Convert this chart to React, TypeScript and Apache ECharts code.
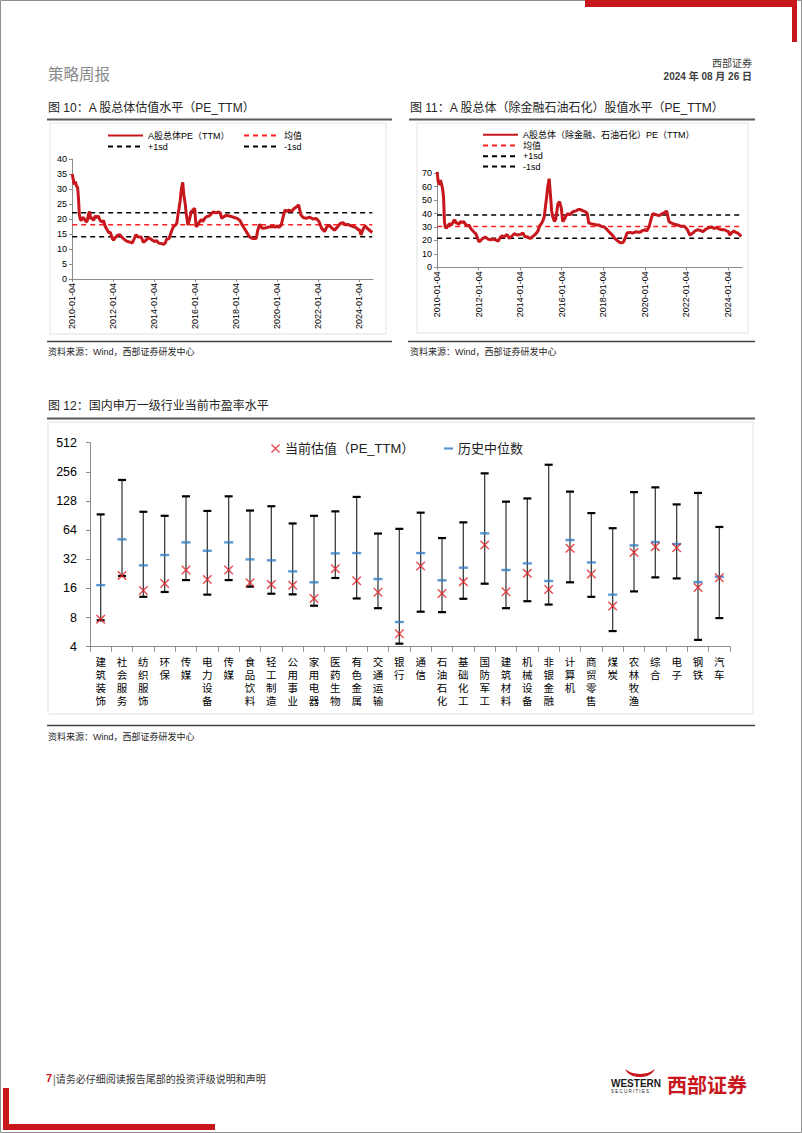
import React, { useEffect, useRef } from "react";
import * as echarts from "echarts";

const FONT = "'Liberation Sans', 'Noto Sans CJK SC', sans-serif";
const CJK = "'Noto Sans CJK SC', 'Liberation Sans', sans-serif";
const RED = "#c8161d";

// ---------- Figure 10 / 11 data ----------
const dates = [
  "2010-01-04", "2010-01-20", "2010-02-10", "2010-03-01", "2010-03-20", "2010-04-10", "2010-04-25", "2010-05-10",
  "2010-05-25", "2010-06-15", "2010-07-10", "2010-08-10", "2010-09-10", "2010-10-01", "2010-10-20", "2010-11-10",
  "2010-11-30", "2010-12-20", "2011-01-20", "2011-02-20", "2011-03-20", "2011-04-15", "2011-05-15", "2011-06-20",
  "2011-07-15", "2011-08-15", "2011-09-15", "2011-10-15", "2011-11-15", "2011-12-20", "2012-01-10", "2012-02-20",
  "2012-03-15", "2012-05-01", "2012-06-15", "2012-08-01", "2012-09-15", "2012-11-15", "2012-12-10", "2013-01-15",
  "2013-02-15", "2013-03-20", "2013-05-15", "2013-06-25", "2013-08-15", "2013-09-20", "2013-11-15", "2014-01-10",
  "2014-02-20", "2014-03-20", "2014-05-15", "2014-06-20", "2014-07-20", "2014-08-10", "2014-09-25", "2014-11-10",
  "2014-12-10", "2015-01-10", "2015-02-10", "2015-03-01", "2015-03-20", "2015-04-10", "2015-04-30", "2015-05-25",
  "2015-06-15", "2015-07-08", "2015-07-25", "2015-08-26", "2015-09-20", "2015-10-25", "2015-11-25", "2015-12-25",
  "2016-01-20", "2016-02-20", "2016-03-20", "2016-04-20", "2016-05-20", "2016-06-20", "2016-07-25", "2016-09-10",
  "2016-10-20", "2016-11-25", "2017-01-10", "2017-02-20", "2017-03-25", "2017-04-20", "2017-06-01", "2017-07-15",
  "2017-09-01", "2017-10-15", "2017-12-01", "2018-01-20", "2018-03-10", "2018-04-20", "2018-06-10", "2018-07-20",
  "2018-09-01", "2018-10-20", "2018-12-01", "2018-12-25", "2019-01-20", "2019-02-25", "2019-04-10", "2019-06-01",
  "2019-08-01", "2019-10-01", "2019-12-01", "2020-01-10", "2020-02-05", "2020-03-15", "2020-04-15", "2020-05-20",
  "2020-06-20", "2020-08-01", "2020-09-15", "2020-11-01", "2020-12-10", "2021-01-20", "2021-03-01", "2021-04-10",
  "2021-06-01", "2021-08-01", "2021-10-01", "2021-12-01", "2022-01-20", "2022-03-01", "2022-04-26", "2022-06-01",
  "2022-07-15", "2022-09-01", "2022-10-20", "2022-12-10", "2023-02-01", "2023-03-20", "2023-05-01", "2023-06-15",
  "2023-08-01", "2023-09-15", "2023-11-01", "2023-12-15", "2024-01-10", "2024-02-05", "2024-03-10", "2024-04-15",
  "2024-05-20", "2024-06-20", "2024-07-20", "2024-08-23",
];

const peAll = [
  35.0, 33.5, 31.5, 32.5, 31.0, 30.5, 27.0, 21.5,
  20.0, 19.5, 20.5, 20.0, 19.0, 19.5, 21.5, 22.5,
  20.0, 20.5, 19.5, 21.0, 20.5, 21.0, 19.5, 19.0,
  19.5, 17.5, 16.5, 15.5, 15.5, 13.5, 13.0, 14.0,
  14.5, 14.8, 13.8, 13.0, 12.5, 12.2, 12.0, 13.5,
  14.8, 14.0, 14.0, 12.2, 13.0, 13.8, 13.2, 12.5,
  12.8, 12.0, 11.8, 11.6, 12.0, 13.2, 13.5, 16.0,
  17.4, 17.8, 18.5, 21.3, 23.5, 26.0, 29.7, 32.2,
  28.0, 25.2, 22.0, 18.0, 19.5, 22.4, 23.0, 23.6,
  17.4, 18.0, 19.1, 19.8, 19.2, 20.2, 20.8, 21.0,
  21.8, 22.4, 22.0, 22.4, 22.0, 20.2, 20.8, 21.3,
  21.0, 20.8, 20.5, 20.2, 19.5, 18.0, 16.5, 15.2,
  14.0, 13.5, 13.6, 13.4, 16.0, 18.2, 16.9, 17.0,
  17.3, 17.5, 17.3, 17.7, 17.2, 18.0, 20.5, 23.0,
  22.5, 23.0, 22.5, 23.5, 24.0, 24.7, 21.3, 20.5,
  20.2, 20.6, 20.0, 20.2, 19.1, 17.0, 15.8, 17.2,
  18.0, 17.0, 16.3, 17.3, 18.5, 18.8, 18.0, 18.2,
  17.8, 17.5, 17.2, 16.5, 16.3, 14.7, 16.5, 17.7,
  17.0, 16.5, 16.0, 15.5,
];

const peExFin = [
  71.5, 64.0, 61.5, 65.0, 62.0, 58.0, 52.0, 34.0,
  30.0, 29.0, 31.0, 32.5, 31.5, 33.0, 34.5, 35.5,
  33.0, 33.0, 32.0, 34.0, 33.5, 34.0, 32.0, 31.0,
  31.5, 29.0, 27.5, 26.0, 25.0, 21.0, 19.0, 20.5,
  21.5, 22.5, 21.0, 20.5, 21.0, 20.0, 19.5, 22.0,
  23.5, 22.5, 24.5, 21.5, 23.5, 25.0, 24.0, 24.5,
  25.5, 23.0, 22.5, 21.5, 22.0, 23.0, 24.5, 27.0,
  31.0, 32.5, 35.0, 38.0, 45.0, 52.0, 60.0, 66.0,
  55.0, 42.0, 38.0, 34.0, 36.0, 47.0, 49.0, 44.0,
  34.0, 36.0, 38.5, 40.0, 39.0, 40.5, 41.5, 42.0,
  43.0, 43.0, 42.0, 41.5, 40.0, 33.0, 32.5, 32.0,
  31.5, 31.5, 30.5, 30.0, 28.0, 26.0, 24.0, 21.5,
  20.0, 18.5, 18.3, 19.0, 21.5, 25.5, 26.0, 25.5,
  26.5, 26.0, 27.5, 28.0, 27.0, 30.0, 35.0, 40.0,
  39.5, 39.0, 38.5, 40.0, 40.5, 42.0, 34.0, 33.0,
  32.0, 31.5, 30.5, 30.5, 28.0, 24.0, 25.5, 27.0,
  28.0, 27.5, 26.5, 28.5, 29.5, 30.0, 29.0, 29.5,
  28.5, 28.0, 28.0, 27.0, 26.5, 24.0, 26.0, 27.0,
  26.0, 25.5, 24.5, 23.0,
];

const peAllMean = 18.1;
const peAllUp = 22.1;
const peAllDown = 14.1;
const peExMean = 30.3;
const peExUp = 39.0;
const peExDown = 21.7;
const yearTicks = [2010, 2012, 2014, 2016, 2018, 2020, 2022, 2024];

// ---------- Figure 12 data ----------
const industries = [
  "建筑装饰", "社会服务", "纺织服饰", "环保", "传媒", "电力设备", "传媒", "食品饮料", "轻工制造", "公用事业",
  "家用电器", "医药生物", "有色金属", "交通运输", "银行", "通信", "石油石化", "基础化工", "国防军工", "建筑材料",
  "机械设备", "非银金融", "计算机", "商贸零售", "煤炭", "农林牧渔", "综合", "电子", "钢铁", "汽车",
];
const histMax = [93, 211, 99, 90, 143, 101, 143, 102, 113, 75, 90, 100, 141, 59, 66, 97, 53, 77, 247, 126, 136, 303, 160, 96, 67, 158, 177, 118, 155, 69];
const histMin = [7.5, 21.5, 13.1, 14.7, 19.5, 13.8, 19.5, 16.7, 14.1, 13.9, 10.6, 20.5, 12.6, 10.0, 4.3, 9.2, 9.1, 12.5, 17.9, 10.0, 11.8, 10.9, 18.5, 13.1, 5.8, 14.9, 20.8, 20.3, 4.7, 7.9];
const histMedian = [17.3, 51.4, 27.7, 35.4, 47.8, 39.2, 47.8, 31.9, 31.2, 24.0, 18.5, 36.8, 37.1, 20.0, 7.2, 37.1, 19.4, 26.2, 59.3, 24.8, 29.0, 19.1, 50.6, 29.7, 13.8, 44.5, 48.2, 46.0, 18.6, 21.1];
const currentPE = [7.7, 21.7, 15.2, 18.0, 24.8, 19.8, 24.8, 18.3, 17.6, 17.3, 12.6, 25.6, 19.2, 14.6, 5.45, 27.3, 14.2, 18.8, 44.9, 14.8, 22.9, 15.6, 41.5, 22.5, 10.5, 37.7, 43.2, 42.1, 16.4, 20.6];

const XPATH = "path://M0,1.1L1.1,0L5,3.9L8.9,0L10,1.1L6.1,5L10,8.9L8.9,10L5,6.1L1.1,10L0,8.9L3.9,5Z";
const DASHPATH = "path://M0,0L10,0L10,2.4L0,2.4Z";

echarts.graphic.registerShape(
  "bullHorns",
  echarts.graphic.extendPath("M0 0 C4 9 14 13 25 13 C36 13 46 9 50 0 C44 5 35 8 25 8 C15 8 6 5 0 0 Z", {})
);

function toYear(d: string): number {
  const [y, m, dd] = d.split("-").map(Number);
  return y + (m - 1) / 12 + (dd - 1) / 365;
}

const lineData = (vals: number[]) => dates.map((d, i) => [toYear(d), vals[i]]);
const flat = (v: number) => [
  [toYear(dates[0]), v],
  [toYear(dates[dates.length - 1]), v],
];

function txt(x: number, y: number, text: string, o: any = {}) {
  return {
    type: "text",
    silent: true,
    style: {
      x,
      y,
      text,
      fontSize: o.size || 12,
      fontFamily: o.family || FONT,
      fontWeight: o.weight || "normal",
      fill: o.color || "#222",
      align: o.align || "left",
      verticalAlign: "middle",
    },
  };
}
function hline(x1: number, x2: number, y: number, color: string, w: number) {
  return { type: "line", silent: true, shape: { x1, y1: y, x2, y2: y }, style: { stroke: color, lineWidth: w } };
}
function frame(x: number, y: number, w: number, h: number) {
  return { type: "rect", silent: true, shape: { x, y, width: w, height: h }, style: { fill: "none", stroke: "#e2e2e2", lineWidth: 1 } };
}
function legendAt(name: string, left: number, top: number) {
  return {
    data: [name],
    left,
    top,
    orient: "horizontal",
    itemWidth: 35,
    itemHeight: 8,
    padding: 0,
    selectedMode: false,
    itemStyle: { opacity: 0 },
    textStyle: { fontSize: 9, color: "#000", fontFamily: FONT },
  };
}

function timeXAxis(gridIndex: number) {
  return {
    type: "value",
    gridIndex,
    min: 2010,
    max: 2024.68,
    interval: 2,
    axisLine: { show: true, onZero: false, lineStyle: { color: "#8c8c8c", width: 1 } },
    axisTick: { show: true, length: 3, customValues: yearTicks, lineStyle: { color: "#8c8c8c" } },
    axisLabel: {
      customValues: yearTicks,
      rotate: 90,
      fontSize: 9,
      color: "#000",
      fontFamily: FONT,
      margin: 4,
      formatter: (v: number) => (Math.abs(v - Math.round(v)) < 1e-6 && Math.round(v) % 2 === 0 ? `${Math.round(v)}-01-04` : ""),
    },
    splitLine: { show: false },
  };
}
function valYAxis(gridIndex: number, max: number, interval: number) {
  return {
    type: "value",
    gridIndex,
    min: 0,
    max,
    interval,
    axisLine: { show: true, lineStyle: { color: "#8c8c8c", width: 1 } },
    axisTick: { show: true, length: 3, lineStyle: { color: "#8c8c8c" } },
    axisLabel: { fontSize: 9, color: "#000", fontFamily: FONT, margin: 5 },
    splitLine: { show: false },
  };
}
function refLine(name: string, v: number, color: string, axis: number) {
  return {
    type: "line",
    name,
    xAxisIndex: axis,
    yAxisIndex: axis,
    data: flat(v),
    symbol: "none",
    showSymbol: false,
    lineStyle: { color, width: 1.5, type: [5, 4] },
    itemStyle: { color },
    z: 2,
    silent: true,
  };
}
function mainLine(name: string, vals: number[], axis: number) {
  return {
    type: "line",
    name,
    xAxisIndex: axis,
    yAxisIndex: axis,
    data: lineData(vals),
    symbol: "none",
    showSymbol: false,
    lineStyle: { color: RED, width: 3 },
    itemStyle: { color: RED },
    z: 3,
    silent: true,
  };
}

export default function App() {
  const ref = useRef<HTMLDivElement>(null);
  useEffect(() => {
    if (!ref.current) return;
    const chart = echarts.init(ref.current, undefined, { renderer: "svg" });
    const option: any = {
      animation: false,
      backgroundColor: "#ffffff",
      grid: [
        { left: 72, top: 159, width: 301, height: 120 },
        { left: 437, top: 173.3, width: 305, height: 94 },
        { left: 90, top: 442.7, width: 640, height: 204 },
      ],
      xAxis: [
        timeXAxis(0),
        timeXAxis(1),
        {
          type: "category",
          gridIndex: 2,
          data: industries,
          axisLine: { show: true, lineStyle: { color: "#8c8c8c" } },
          axisTick: { show: true, length: 5, lineStyle: { color: "#8c8c8c" } },
          axisLabel: {
            interval: 0,
            fontSize: 10.5,
            lineHeight: 13,
            color: "#000",
            fontFamily: CJK,
            margin: 8,
            formatter: (v: string) => v.split("").join("\n"),
          },
          splitLine: { show: false },
        },
      ],
      yAxis: [
        valYAxis(0, 40, 5),
        valYAxis(1, 70, 10),
        {
          type: "log",
          logBase: 2,
          gridIndex: 2,
          min: 4,
          max: 512,
          axisLine: { show: true, lineStyle: { color: "#8c8c8c" } },
          axisTick: { show: true, length: 4, lineStyle: { color: "#8c8c8c" } },
          axisLabel: { fontSize: 12.5, color: "#000", fontFamily: FONT, margin: 13, formatter: (v: number) => String(Math.round(v)) },
          splitLine: { show: false },
          minorTick: { show: false },
        },
      ],
      legend: [
        legendAt("A股总体PE（TTM）", 107, 131),
        legendAt("均值", 243, 131),
        legendAt("+1sd", 107, 142),
        legendAt("-1sd", 243, 142),
        legendAt("A股总体（除金融、石油石化）PE（TTM）", 482, 130.3),
        legendAt("均值", 482, 141),
        legendAt("+1sd", 482, 151.7),
        legendAt("-1sd", 482, 162),
        {
          data: [{ name: "当前估值（PE_TTM）", icon: XPATH }],
          left: 271,
          top: 442,
          itemWidth: 9,
          itemHeight: 9,
          padding: 0,
          selectedMode: false,
          textStyle: { fontSize: 13, color: "#222", fontFamily: FONT },
        },
        {
          data: [{ name: "历史中位数", icon: DASHPATH }],
          left: 444,
          top: 442,
          itemWidth: 9,
          itemHeight: 9,
          padding: 0,
          selectedMode: false,
          textStyle: { fontSize: 13, color: "#222", fontFamily: FONT },
        },
      ],
      series: [
        refLine("均值", peAllMean, "#ff2020", 0),
        refLine("+1sd", peAllUp, "#000000", 0),
        refLine("-1sd", peAllDown, "#000000", 0),
        mainLine("A股总体PE（TTM）", peAll, 0),
        refLine("均值", peExMean, "#ff2020", 1),
        refLine("+1sd", peExUp, "#000000", 1),
        refLine("-1sd", peExDown, "#000000", 1),
        mainLine("A股总体（除金融、石油石化）PE（TTM）", peExFin, 1),
        {
          type: "custom",
          name: "区间",
          xAxisIndex: 2,
          yAxisIndex: 2,
          silent: true,
          z: 2,
          encode: { x: 0, y: [1, 2] },
          data: industries.map((_, i) => [i, histMin[i], histMax[i]]),
          renderItem: (params: any, api: any) => {
            const i = api.value(0);
            const pLo = api.coord([i, api.value(1)]);
            const pHi = api.coord([i, api.value(2)]);
            const x = pLo[0];
            const w = 4;
            return {
              type: "group",
              children: [
                { type: "line", shape: { x1: x, y1: pHi[1], x2: x, y2: pLo[1] }, style: { stroke: "#3f3f3f", lineWidth: 1.3 } },
                { type: "line", shape: { x1: x - w, y1: pHi[1], x2: x + w, y2: pHi[1] }, style: { stroke: "#000", lineWidth: 2.2 } },
                { type: "line", shape: { x1: x - w, y1: pLo[1], x2: x + w, y2: pLo[1] }, style: { stroke: "#000", lineWidth: 2.2 } },
              ],
            };
          },
        },
        {
          type: "scatter",
          name: "历史中位数",
          xAxisIndex: 2,
          yAxisIndex: 2,
          silent: true,
          z: 3,
          symbol: "rect",
          symbolSize: [9, 2.4],
          itemStyle: { color: "#2f7dc4" },
          data: histMedian.map((v, i) => [i, v]),
        },
        {
          type: "scatter",
          name: "当前估值（PE_TTM）",
          xAxisIndex: 2,
          yAxisIndex: 2,
          silent: true,
          z: 4,
          symbol: XPATH,
          symbolSize: 9.5,
          itemStyle: { color: "#e3242b" },
          data: currentPE.map((v, i) => [i, v]),
        },
      ],
      graphic: [
        { type: "rect", silent: true, z: 0, shape: { x: 0.5, y: 0.5, width: 801, height: 1132 }, style: { fill: "none", stroke: "#8f8f8f", lineWidth: 1 } },
        { type: "rect", silent: true, shape: { x: 585, y: 0, width: 212, height: 7 }, style: { fill: RED } },
        { type: "rect", silent: true, shape: { x: 792, y: 0, width: 5, height: 42 }, style: { fill: RED } },
        { type: "rect", silent: true, shape: { x: 3, y: 1088, width: 6, height: 42 }, style: { fill: RED } },
        { type: "rect", silent: true, shape: { x: 3, y: 1124, width: 212, height: 6 }, style: { fill: RED } },
        txt(48, 73, "策略周报", { size: 15.5, family: CJK, color: "#8a8a8a" }),
        txt(752, 62, "西部证券", { size: 10, family: CJK, color: "#404040", align: "right" }),
        txt(752, 76, "2024 年 08 月 26 日", { size: 10, color: "#404040", align: "right", weight: "bold" }),
        // figure 10
        txt(48, 108, "图 10：A 股总体估值水平（PE_TTM）", { size: 12, color: "#262626" }),
        hline(47, 392, 119.5, "#595959", 2),
        frame(50, 123, 336, 211),
        hline(47, 392, 341.5, "#404040", 1.5),
        txt(48, 352, "资料来源：Wind，西部证券研发中心", { size: 9, color: "#262626" }),
        // figure 11
        txt(410, 108, "图 11：A 股总体（除金融石油石化）股值水平（PE_TTM）", { size: 12, color: "#262626" }),
        hline(409, 755, 119.5, "#595959", 2),
        frame(417, 123, 331, 210),
        hline(408, 755, 341.5, "#404040", 1.5),
        txt(410, 352, "资料来源：Wind，西部证券研发中心", { size: 9, color: "#262626" }),
        // figure 12
        txt(48, 406, "图 12：国内申万一级行业当前市盈率水平", { size: 12, color: "#262626" }),
        hline(47, 755, 418.5, "#595959", 2),
        frame(48, 422, 705, 292),
        hline(47, 755, 725.5, "#404040", 1.5),
        txt(48, 737, "资料来源：Wind，西部证券研发中心", { size: 9, color: "#262626" }),
        // footer
        txt(46, 1078, "7", { size: 11, color: RED, weight: "bold" }),
        txt(53, 1078, "|请务必仔细阅读报告尾部的投资评级说明和声明", { size: 10, family: CJK, color: "#333" }),
        { type: "bullHorns", silent: true, x: 625, y: 1069, scaleX: 0.6, scaleY: 0.62, style: { fill: RED } },
        txt(611, 1083, "WESTERN", { size: 10, color: "#1a1a1a", weight: "bold" }),
        txt(611, 1091, "S E C U R I T I E S", { size: 4.5, color: "#1a1a1a" }),
        txt(667, 1084, "西部证券", { size: 20, family: CJK, color: RED, weight: "bold" }),
      ],
    };
    chart.setOption(option);
    return () => chart.dispose();
  }, []);
  return (
    <div
      ref={ref}
      style={{ position: "absolute", left: 0, top: 0, width: 802, height: 1133, background: "#fff" }}
    />
  );
}
